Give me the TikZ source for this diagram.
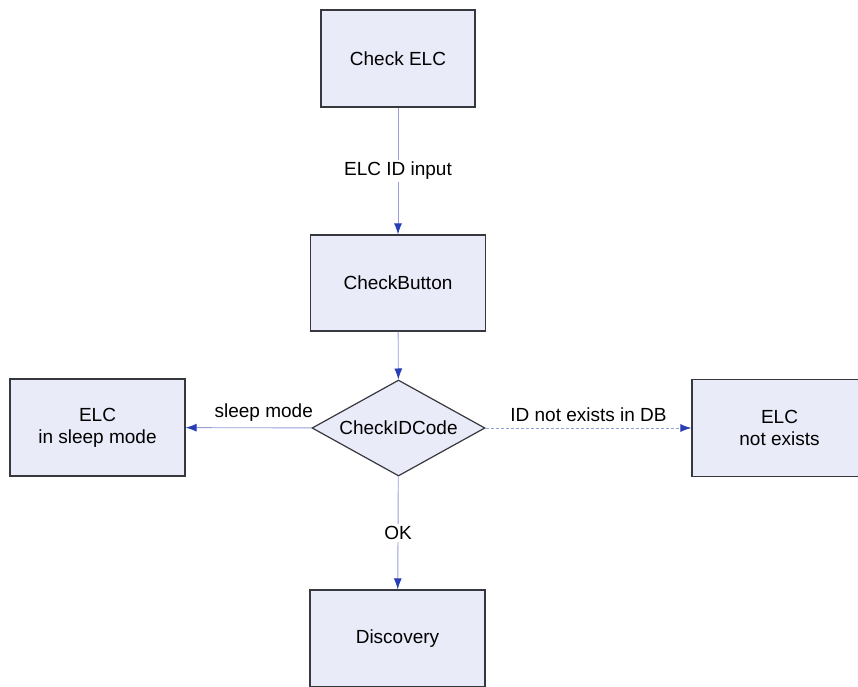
\documentclass[tikz,border=0pt]{standalone}
\usepackage{fontspec}
\setmainfont{Liberation Sans}
\usetikzlibrary{shapes.geometric,arrows.meta}
\definecolor{boxfill}{RGB}{234,235,249}
\definecolor{boxline}{RGB}{55,55,62}
\definecolor{flowline}{RGB}{150,160,214}
\definecolor{tipblue}{RGB}{40,62,180}
\tikzset{
  box/.style={draw=boxline, fill=boxfill, line width=1.2pt, align=center,
    minimum width=175pt, minimum height=97pt, inner sep=0pt},
  test/.style={box, shape=diamond, aspect=1.8, minimum width=173pt,
    minimum height=96pt},
  flow/.style={draw=flowline, line width=0.9pt,
    -{Latex[length=11pt, width=8pt, color=tipblue]}},
  lbl/.style={fill=white, inner sep=2pt}
}
\begin{document}
\begin{tikzpicture}[x=1pt, y=-1pt, font=\fontsize{19}{22}\selectfont]
      \useasboundingbox (0,0) rectangle (858,686);
      \clip (0,0) rectangle (858,686);
      \draw
        (398,58.5) node[box, minimum width=154pt] (elc){Check ELC}
        (398,283) node[box, minimum height=96pt] (button){CheckButton}
        (398.5,428) node[test] (code){CheckIDCode}
        (97.5,427.5) node[box] (sleep){ELC\\in sleep mode}
        (779.5,428) node[box] (none){ELC\\not exists}
        (397.5,638.5) node[box] (disc){Discovery};
      \begin{scope}[flow]
        \draw (elc) to node[lbl]{ELC ID input} (button);
        \draw (button) to (code);
        \draw (code) to node[pos=0.38, above=3pt]{sleep mode} (sleep);
        \draw[densely dashed] (code) to node[above=3pt]{ID not exists in DB} (none);
        \draw (code) to node[lbl]{OK} (disc);
      \end{scope}
    \end{tikzpicture}
\end{document}
